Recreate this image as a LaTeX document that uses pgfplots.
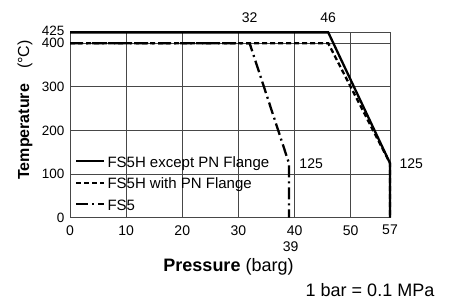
\documentclass[border=0pt]{standalone}
\usepackage{pgfplots}
\pgfplotsset{compat=1.18}
\usepackage{fontspec}
\setmainfont{Liberation Sans}
\newcommand\fs[1]{\fontsize{#1}{#1}\selectfont}
\begin{document}
\begin{tikzpicture}
\useasboundingbox (0,0) rectangle (449pt,299pt);
\begin{axis}[
  at={(70pt,81.3pt)}, anchor=south west,
  scale only axis, width=320pt, height=185.3pt,
  xmin=0, xmax=57, ymin=0, ymax=425,
  xtick={0,10,20,30,40,50,57},
  ytick={0,100,200,300,400},
  extra y ticks={425},
  extra y tick style={yticklabel style={yshift=1.8pt}},
  major tick length=0pt,
  grid=major,
  major grid style={black!72, line width=0.9pt},
  axis line style={black!72, line width=0.9pt},
  /pgf/number format/assume math mode=true,
  ticklabel style={font=\fs{14}},
  yticklabel style={xshift=-2pt, inner ysep=0pt, font=\fs{13.5}},
  xticklabel style={yshift=-4pt},
  legend style={at={(0,0)}, anchor=south west, xshift=5pt, yshift=-0.5pt,
    draw=none, fill=none, inner sep=0pt, row sep=0pt,
    font=\fs{15},
    nodes={inner xsep=2pt, inner ysep=0pt, text height=14pt, text depth=7.5pt},
    cells={anchor=west}},
  legend image code/.code={\draw[#1] (0pt,3pt) -- (28pt,3pt);},
  clip=false,
]
\addplot[black, line width=2.3pt] coordinates {(0,425) (46,425) (57,125) (57,0)};
\addlegendentry{FS5H except PN Flange}
\addplot[black, line width=2.3pt, dash pattern=on 5pt off 3pt] coordinates {(0,400) (46,400) (57,125) (57,0)};
\addlegendentry{FS5H with PN Flange}
\addplot[black, line width=2.3pt, dash pattern=on 12pt off 4pt on 2pt off 4pt] coordinates {(0,400) (32,400) (39,125) (39,0)};
\addlegendentry{FS5}
\node[font=\fs{14}] at (axis cs:32,425) [yshift=14.5pt] {32};
\node[font=\fs{14}] at (axis cs:46,425) [yshift=14.5pt] {46};
\node[font=\fs{14}, anchor=west] at (axis cs:39,125) [xshift=7pt] {125};
\node[font=\fs{14}, anchor=west] at (axis cs:57,125) [xshift=6pt] {125};
\node[font=\fs{14}] at (axis cs:39.3,0) [yshift=-29pt] {39};
\end{axis}
\node[rotate=90, font=\fs{16}] at (25pt,189pt) {\textbf{Temperature}\hspace{15pt}(°C)};
\node[font=\fs{18}] at (228.5pt,32pt) {\textbf{Pressure} (barg)};
\node[font=\fs{18}, inner ysep=1pt] at (370pt,9pt) {1 bar = 0.1 MPa};
\end{tikzpicture}
\end{document}
